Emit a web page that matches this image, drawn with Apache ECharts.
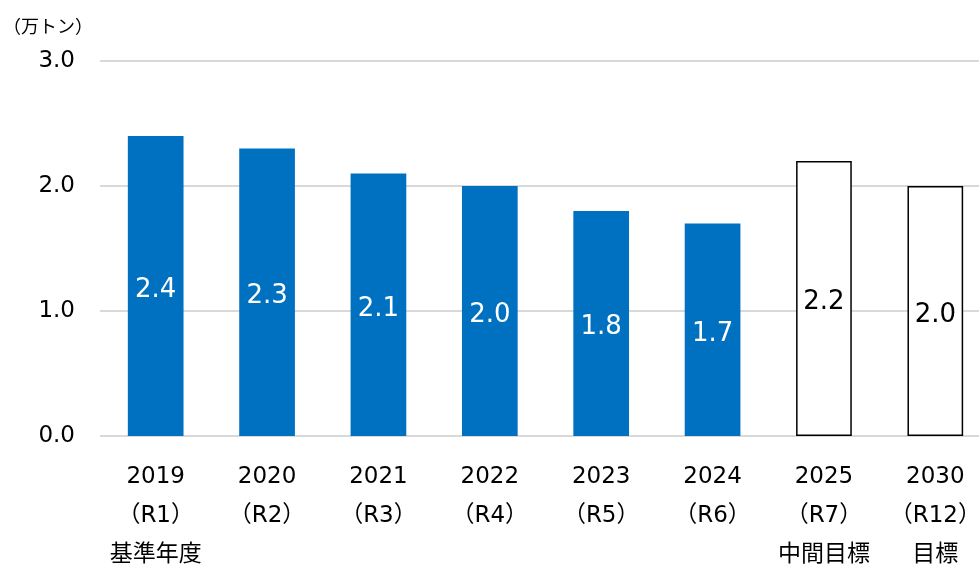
<!DOCTYPE html>
<html>
<head>
<meta charset="utf-8">
<script src="https://cdn.jsdelivr.net/npm/echarts@6/dist/echarts.min.js"></script>
<style>
html,body{margin:0;padding:0;background:#fff;}
#chart{width:979px;height:565px;}
</style>
</head>
<body>
<div id="chart"></div>
<script>
// 年度ラベル
var years = ['2019', '2020', '2021', '2022', '2023', '2024', '2025', '2030'];
var reiwa = ['（R1）', '（R2）', '（R3）', '（R4）', '（R5）', '（R6）', '（R7）', '（R12）'];
var notes = ['基準年度', '', '', '', '', '', '中間目標', '目標'];
// 実績（万トン）
var actual = [2.4, 2.3, 2.1, 2.0, 1.8, 1.7, null, null];
// 目標（万トン）
var target = [null, null, null, null, null, null, 2.2, 2.0];
var yTicks = [0, 1, 2, 3];

var font = '"DejaVu Sans", "Noto Sans CJK JP", sans-serif';

var categories = [];
for (var i = 0; i < years.length; i++) {
    var s = years[i] + '\n' + reiwa[i];
    if (notes[i]) s += '\n' + notes[i];
    categories.push(s);
}

var chart = echarts.init(document.getElementById('chart'));
var option = {
    animation: false,
    textStyle: {fontFamily: font},
    title: {
        text: '（万トン）',
        left: -2,
        top: 14,
        textStyle: {fontSize: 18, fontWeight: 'normal', color: '#000', fontFamily: font}
    },
    grid: {left: 100, right: -12, top: 61, bottom: 129, outerBoundsMode: 'none'},
    xAxis: {
        type: 'category',
        data: categories,
        axisLine: {show: false},
        axisTick: {show: false},
        axisLabel: {
            interval: 0,
            margin: 22,
            fontSize: 23,
            lineHeight: 39,
            color: '#000',
            verticalAlign: 'top',
            fontFamily: font
        }
    },
    yAxis: {
        type: 'value',
        min: yTicks[0],
        max: yTicks[yTicks.length - 1],
        interval: 1,
        axisLine: {show: false},
        axisTick: {show: false},
        axisLabel: {
            margin: 25,
            fontSize: 23,
            color: '#000',
            fontFamily: font,
            formatter: function (v) { return v.toFixed(1); }
        },
        splitLine: {lineStyle: {color: '#d9d9d9', width: 2}}
    },
    series: [
        {
            name: '実績',
            type: 'bar',
            stack: 'a',
            barWidth: '50%',
            data: actual,
            itemStyle: {color: '#0070C0'},
            label: {
                show: true,
                position: 'inside',
                offset: [0, 4],
                color: '#fff',
                fontSize: 26,
                fontFamily: font,
                formatter: function (p) { return p.value.toFixed(1); }
            }
        },
        {
            name: '目標',
            type: 'bar',
            stack: 'a',
            barWidth: '50%',
            data: target,
            itemStyle: {color: '#fff', borderColor: '#000', borderWidth: 1.5},
            label: {
                show: true,
                position: 'inside',
                offset: [0, 4],
                color: '#000',
                fontSize: 26,
                fontFamily: font,
                formatter: function (p) { return p.value.toFixed(1); }
            }
        }
    ]
};
chart.setOption(option);
</script>
</body>
</html>
